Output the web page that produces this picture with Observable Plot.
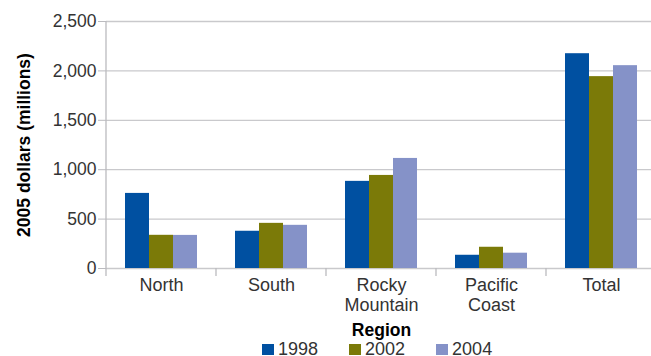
<!DOCTYPE html>
<html>
<head>
<meta charset="utf-8">
<script src="https://cdn.jsdelivr.net/npm/d3@7"></script>
<script src="https://cdn.jsdelivr.net/npm/@observablehq/plot@0.6"></script>
<style>
  body { margin: 0; background: #fff; }
  #wrap { position: relative; width: 651px; height: 356px; overflow: hidden; font-family: "Liberation Sans", Arial, sans-serif; }
  #legend { position: absolute; left: 262px; top: 339px; display: flex; align-items: center; font-size: 18px; color: #333; line-height: 20px; }
  #legend .item { display: flex; align-items: center; margin-right: 31px; }
  #legend .sw { width: 12px; height: 11px; margin-right: 4px; }
</style>
</head>
<body>
<div id="wrap"></div>
<script>
const regions = ["North", "South", "Rocky Mountain", "Pacific Coast", "Total"];
const years = ["1998", "2002", "2004"];
const v1998 = [760, 377, 882, 134, 2174];
const v2002 = [336, 457, 942, 215, 1942];
const v2004 = [335, 437, 1114, 155, 2053];
const yTicks = [0, 500, 1000, 1500, 2000, 2500];
const colors = ["#0050a1", "#7b7a08", "#8592c8"];

const series = [v1998, v2002, v2004];
const data = [];
regions.forEach((r, i) => years.forEach((yr, j) => data.push({region: r, year: yr, value: series[j][i]})));

const chart = Plot.plot({
  width: 651,
  height: 356,
  marginLeft: 105,
  marginRight: 0,
  marginTop: 21,
  marginBottom: 88,
  style: {fontFamily: "'Liberation Sans', Arial, sans-serif", fontSize: "18px", color: "#333", background: "#fff", overflow: "visible"},
  fx: {domain: regions, range: [105, 656], padding: 0, label: null},
  x: {domain: years, paddingInner: 0, paddingOuter: 0.72, axis: null},
  y: {domain: [0, 2500]},
  color: {domain: years, range: colors},
  marks: [
    Plot.gridY(yTicks, {stroke: "#c9c9cc", strokeOpacity: 1, strokeWidth: 1.3}),
    Plot.barY(data, {fx: "region", x: "year", y: "value", fill: "year"}),
    Plot.axisY(yTicks, {tickFormat: d3.format(","), tickSize: 8, tickPadding: 2, stroke: "#bbbbbf", fontSize: 17.5, label: null}),
    Plot.axisY(yTicks, {tickFormat: () => "", tickSize: 0, label: "2005 dollars (millions)", labelAnchor: "center", labelOffset: 89, labelArrow: false, fontSize: 17.5, fontWeight: "bold", fill: "#000"}),
    Plot.axisFx({anchor: "bottom", tickSize: 0, tickPadding: 8, tickFormat: d => d.replace(" ", "\n"), lineHeight: 1.12, fontSize: 18, label: null}),
    Plot.axisFx({anchor: "bottom", tickSize: 0, tickFormat: () => "", label: "Region", labelAnchor: "center", labelOffset: 67, labelArrow: false, fontSize: 17.5, fontWeight: "bold", fill: "#000"})
  ]
});

document.getElementById("wrap").appendChild(chart);

// axis line and category boundary ticks, placed from Plot's own scales
const fx = chart.scale("fx");
const y = chart.scale("y");
const svg = d3.select(chart);
const y0 = y.apply(0);
const g = svg.append("g").attr("stroke", "#bbbbbf").attr("stroke-width", 1.3);
const left = fx.apply(regions[0]);
g.append("line").attr("x1", left).attr("x2", left).attr("y1", y.apply(2500)).attr("y2", y0 + 8);
regions.slice(1).forEach(r => {
  const b = fx.apply(r);
  g.append("line").attr("x1", b).attr("x2", b).attr("y1", y0).attr("y2", y0 + 8);
});

// legend
const color = chart.scale("color");
const leg = d3.select("#wrap").append("div").attr("id", "legend");
years.forEach(yr => {
  const it = leg.append("div").attr("class", "item");
  it.append("div").attr("class", "sw").style("background", color.apply(yr));
  it.append("span").text(yr);
});
</script>
</body>
</html>
